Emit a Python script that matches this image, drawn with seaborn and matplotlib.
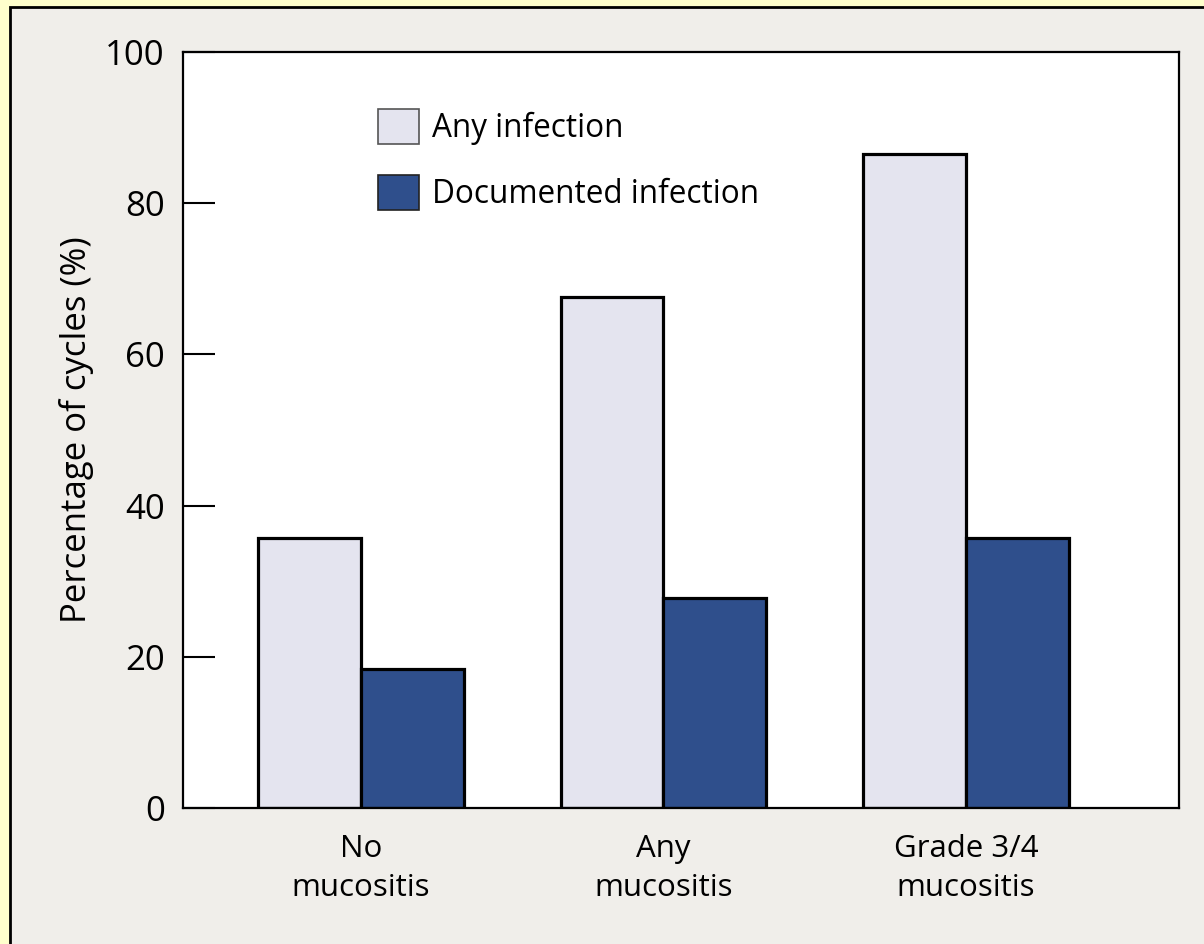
import pandas as pd
import numpy as np
import matplotlib.pyplot as plt
import seaborn as sns
from matplotlib.patches import Patch, Rectangle

# data
groups = ['No\nmucositis', 'Any\nmucositis', 'Grade 3/4\nmucositis']
any_infection = [35.7, 67.6, 86.5]
documented_infection = [18.4, 27.8, 35.7]
series = ['Any infection', 'Documented infection']
colors = ['#E4E4EF', '#2F4F8C']

df = pd.DataFrame({
    'group': groups * 2,
    'pct': any_infection + documented_infection,
    'series': [series[0]] * 3 + [series[1]] * 3,
})

sns.set_style('white')
plt.rcParams['font.family'] = ['Open Sans', 'DejaVu Sans']
plt.rcParams['text.color'] = 'black'
plt.rcParams['axes.labelcolor'] = 'black'
plt.rcParams['xtick.color'] = 'black'
plt.rcParams['ytick.color'] = 'black'

fig = plt.figure(figsize=(12.04, 9.44), dpi=100, facecolor='#FFFFCC')
# grey panel with black frame line on top/left
fig.patches.append(Rectangle((10 / 1204, -0.02), 1.05, 1 - 7 / 944 + 0.02,
                             transform=fig.transFigure, facecolor='#F0EEEA',
                             edgecolor='black', linewidth=2, zorder=-10))

ax = fig.add_axes([183 / 1204, 1 - 808 / 944, 996 / 1204, 756 / 944])
ax.set_facecolor('white')

sns.barplot(data=df, x='group', y='pct', hue='series', palette=colors,
            width=0.68, edgecolor='black', linewidth=2.3, legend=False,
            saturation=1, ax=ax)

ax.set_ylim(0, 100)
ax.set_xlim(-0.588, 2.704)
ax.set_yticks([0, 20, 40, 60, 80, 100])
ax.tick_params(axis='y', direction='in', length=23, width=1.5, pad=13,
               labelsize=25, left=True)
ax.tick_params(axis='x', length=0, pad=19, labelsize=22.5)
for lab in ax.get_xticklabels():
    lab.set_linespacing(1.38)
for s in ax.spines.values():
    s.set_color('black')
    s.set_linewidth(1.6)
ax.set_xlabel('')
ax.set_ylabel('Percentage of cycles (%)', fontsize=25, labelpad=8)

handles = [Patch(facecolor=colors[0], edgecolor='#555555', linewidth=1.2),
           Patch(facecolor=colors[1], edgecolor='#222222', linewidth=1.2)]
ax.legend(handles, series, loc='upper left', bbox_to_anchor=(0.196, 0.924),
          frameon=False, fontsize=22.7, handlelength=1.3, handleheight=1.3,
          handletextpad=0.4, labelspacing=0.95, borderpad=0, borderaxespad=0)

plt.savefig('out.png', dpi=100, facecolor=fig.get_facecolor())
